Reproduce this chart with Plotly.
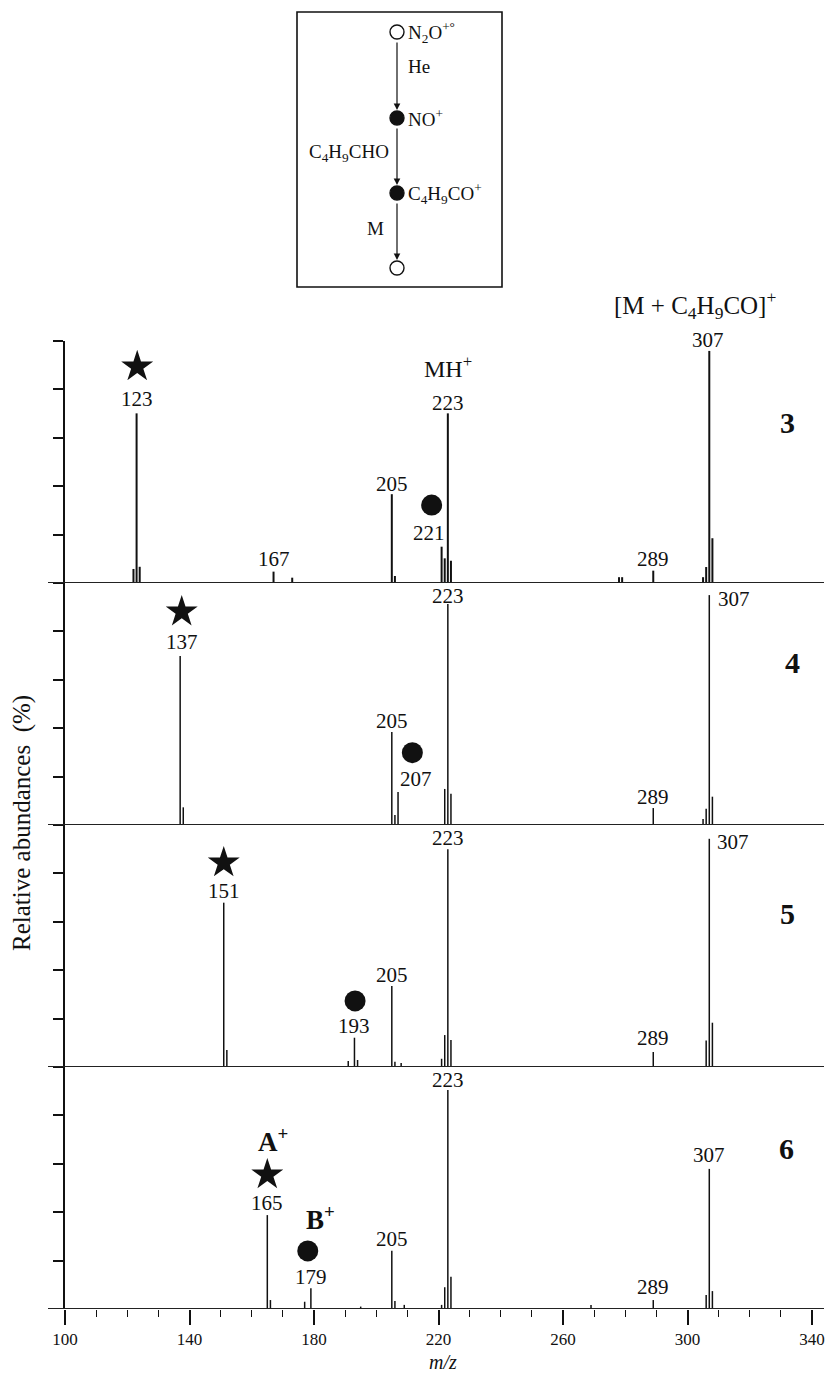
import plotly.graph_objects as go

# ---------------- data (m/z, relative abundance %) ----------------
mz_3 = [122, 123, 124, 167, 173, 205, 206, 221, 222, 223, 224, 278, 279, 289, 305, 306, 307, 308]
ab_3 = [5.8, 70.1, 6.7, 4.7, 2.2, 36.7, 2.9, 15.0, 10.2, 70.1, 9.2, 2.4, 2.4, 5.1, 2.4, 6.6, 95.9, 18.5]

mz_4 = [137, 138, 205, 206, 207, 222, 223, 224, 289, 305, 306, 307, 308]
ab_4 = [69.8, 7.3, 38.4, 4.1, 13.6, 14.9, 91.3, 12.9, 7.0, 2.5, 6.7, 95.0, 11.7]

mz_5 = [151, 152, 191, 193, 194, 205, 206, 208, 221, 222, 223, 224, 289, 306, 307, 308]
ab_5 = [67.9, 7.0, 2.5, 12.1, 2.9, 33.5, 2.2, 1.7, 3.4, 13.2, 90.0, 11.2, 6.2, 10.9, 94.3, 18.3]

mz_6 = [165, 166, 177, 179, 195, 205, 206, 209, 221, 222, 223, 224, 269, 289, 306, 307, 308]
ab_6 = [38.8, 3.7, 3.0, 8.6, 1.0, 24.1, 3.3, 1.7, 1.7, 9.0, 90.5, 13.3, 1.7, 3.7, 5.8, 57.9, 7.4]

panel_names = ["3", "4", "5", "6"]
x_ticks = [100, 140, 180, 220, 260, 300, 340]

# ---------------- styling / layout constants ----------------
INK = "#111111"
FONT = "Liberation Serif, Times New Roman, serif"
W, H = 827, 1379
ML, MR, MT, MB = 65, 15, 0, 70
PH = H - MT - MB          # plot-area height in px
ROW_TOP, ROW_H = 341, 242  # px
PX_PER_PCT = ROW_H / 100.0

def paper_y(px):
    return (PH - (px - MT)) / PH

def paper_x(px):
    return (px - ML) / (W - ML - MR)

fig = go.Figure()

spectra = [(mz_3, ab_3), (mz_4, ab_4), (mz_5, ab_5), (mz_6, ab_6)]
annotations = []
shapes = []

def ax_id(k):
    return "" if k == 0 else str(k + 1)

# label specs per panel: (text, x m/z, y %, size, bold)
labels = [
    [("123", 123, 75.9, 21, False), ("MH<sup>+</sup>", 223, 89.4, 24, False),
     ("223", 223, 74.5, 21, False), ("205", 205, 40.9, 21, False),
     ("221", 217, 20.5, 21, False), ("167", 167.1, 9.8, 21, False),
     ("289", 289, 9.8, 21, False), ("307", 306.5, 100.6, 21, False),
     ("[M + C<sub>4</sub>H<sub>9</sub>CO]<sup>+</sup>", 302.5, 115.0, 25, False)],
    [("137", 137.5, 75.7, 21, False), ("205", 205, 43.1, 21, False),
     ("207", 212.8, 18.9, 21, False), ("223", 223, 94.6, 21, False),
     ("307", 315, 93.3, 21, False), ("289", 289, 11.4, 21, False)],
    [("151", 151, 72.9, 21, False), ("193", 193, 16.9, 21, False),
     ("205", 205, 38.0, 21, False), ("223", 223, 94.6, 21, False),
     ("307", 314.6, 93.1, 21, False), ("289", 289, 12.0, 21, False)],
    [("A<sup>+</sup>", 166.8, 69.7, 27, True), ("165", 165, 43.7, 21, False),
     ("B<sup>+</sup>", 182.2, 37.5, 27, True), ("179", 179, 13.3, 21, False),
     ("205", 205, 28.9, 21, False), ("223", 223, 94.6, 21, False),
     ("307", 307, 63.6, 21, False), ("289", 289, 9.2, 21, False)],
]
panel_num_pos = [(332.0, 66.2), (333.6, 67.1), (332.2, 63.6), (331.9, 66.4)]
star_pos = [(123.2, 89.4), (137.5, 88.1), (151, 84.4), (165, 55.5)]
dot_pos = [(217.8, 32.2), (211.6, 29.9), (193.2, 27.3), (178.0, 24.0)]

for k, (mz, ab) in enumerate(spectra):
    a = ax_id(k)
    xs, ys = [], []
    for m, v in zip(mz, ab):
        xs += [m, m, None]
        ys += [0, v, None]
    fig.add_trace(go.Scatter(x=xs, y=ys, mode="lines",
                             line=dict(color=INK, width=2.0 if k == 0 else 1.5),
                             xaxis="x" + a, yaxis="y" + a,
                             hoverinfo="skip", showlegend=False))
    fig.add_trace(go.Scatter(x=[star_pos[k][0]], y=[star_pos[k][1]], mode="markers",
                             marker=dict(symbol="star", size=24, color=INK, line=dict(width=0)),
                             xaxis="x" + a, yaxis="y" + a, cliponaxis=False,
                             hoverinfo="skip", showlegend=False))
    fig.add_trace(go.Scatter(x=[dot_pos[k][0]], y=[dot_pos[k][1]], mode="markers",
                             marker=dict(symbol="circle", size=21, color=INK, line=dict(width=0)),
                             xaxis="x" + a, yaxis="y" + a, cliponaxis=False,
                             hoverinfo="skip", showlegend=False))
    for (txt, x, y, size, bold) in labels[k]:
        # annotations above the axis range would be hidden: clamp and shift in px
        yy, shift = (y, 0) if y <= 98 else (98, (y - 98) * PX_PER_PCT)
        annotations.append(dict(text=("<b>%s</b>" % txt) if bold else txt,
                                x=x, y=yy, yshift=shift, xref="x" + a, yref="y" + a,
                                showarrow=False, xanchor="center", yanchor="middle",
                                font=dict(family=FONT, size=size, color=INK)))
    annotations.append(dict(text="<b>%s</b>" % panel_names[k],
                            x=panel_num_pos[k][0], y=panel_num_pos[k][1],
                            xref="x" + a, yref="y" + a, showarrow=False,
                            font=dict(family=FONT, size=30, color=INK)))
    shapes.append(dict(type="line", xref="paper", yref="y" + a,
                       x0=paper_x(48), x1=paper_x(824), y0=0, y1=0,
                       line=dict(color="#222222", width=2)))

# axes
layout_axes = {}
for k in range(4):
    a = ax_id(k)
    top = ROW_TOP + k * ROW_H
    bot = top + ROW_H
    layout_axes["yaxis" + a] = dict(
        domain=[paper_y(bot), paper_y(top)], range=[0, 100], anchor="x" + a,
        showgrid=False, zeroline=False, showline=True, linecolor=INK, linewidth=1.6,
        ticks="outside", ticklen=10, tickwidth=1.6, tickcolor=INK,
        tickvals=[20, 40, 60, 80, 100], showticklabels=False, fixedrange=True)
    xa = dict(domain=[0, 1], range=[100, 340], anchor="y" + a,
              showgrid=False, zeroline=False, showline=False, fixedrange=True)
    if k < 3:
        xa.update(showticklabels=False, ticks="", matches="x4")
    else:
        xa.update(ticks="outside", ticklen=15, tickwidth=1.6, tickcolor=INK,
                  tickvals=x_ticks, ticktext=[str(t) for t in x_ticks],
                  tickfont=dict(family=FONT, size=17, color=INK),
                  minor=dict(ticks="outside", ticklen=7, tickwidth=1.3, tickcolor=INK,
                             dtick=10, tick0=100, showgrid=False))
    layout_axes["xaxis" + a] = xa

# ---------------- reaction scheme (inset, pixel coordinates) ----------------
layout_axes["xaxis5"] = dict(domain=[paper_x(290), paper_x(510)], range=[290, 510],
                             visible=False, anchor="y5", fixedrange=True)
layout_axes["yaxis5"] = dict(domain=[paper_y(295), 1.0], range=[295, 0],
                             visible=False, anchor="x5", fixedrange=True)

shapes.append(dict(type="rect", xref="x5", yref="y5", x0=297, x1=502, y0=12, y1=287,
                   line=dict(color=INK, width=1.6)))
node_y = [32, 118, 193, 268]
node_filled = [False, True, True, False]
fig.add_trace(go.Scatter(x=[397] * 4, y=node_y, mode="markers",
                         marker=dict(symbol=["circle" if f else "circle-open" for f in node_filled],
                                     size=14, color=INK, line=dict(width=1.4, color=INK)),
                         xaxis="x5", yaxis="y5", hoverinfo="skip", showlegend=False,
                         cliponaxis=False))
for y0, y1 in [(41, 110), (127, 185), (202, 260)]:
    annotations.append(dict(x=397, y=y1, ax=397, ay=y0, xref="x5", yref="y5",
                            axref="x5", ayref="y5", text="", showarrow=True,
                            arrowhead=2, arrowsize=1.1, arrowwidth=1.2, arrowcolor=INK))
scheme_text = [
    ("N<sub>2</sub>O<sup>+°</sup>", 406, 32, "left"),
    ("He", 406, 66, "left"),
    ("NO<sup>+</sup>", 406, 118, "left"),
    ("C<sub>4</sub>H<sub>9</sub>CHO", 391, 153, "right"),
    ("C<sub>4</sub>H<sub>9</sub>CO<sup>+</sup>", 406, 193, "left"),
    ("M", 386, 228, "right"),
]
for txt, x, y, anc in scheme_text:
    annotations.append(dict(text=txt, x=x, y=y, xref="x5", yref="y5", showarrow=False,
                            xanchor=anc, yanchor="middle",
                            font=dict(family=FONT, size=19, color=INK)))

# axis titles
annotations.append(dict(text="Relative abundances  (%)", x=paper_x(22), y=paper_y(823),
                        xref="paper", yref="paper", showarrow=False, textangle=-90,
                        xanchor="center", yanchor="middle",
                        font=dict(family=FONT, size=25, color=INK)))
annotations.append(dict(text="<i>m/z</i>", x=paper_x(443), y=paper_y(1362),
                        xref="paper", yref="paper", showarrow=False,
                        xanchor="center", yanchor="middle",
                        font=dict(family=FONT, size=20, color=INK)))

fig.update_layout(
    width=W, height=H,
    margin=dict(l=ML, r=MR, t=MT, b=MB, autoexpand=False),
    paper_bgcolor="white", plot_bgcolor="white",
    showlegend=False,
    annotations=annotations, shapes=shapes,
    font=dict(family=FONT, color=INK),
    **layout_axes,
)

fig.write_html("out.html", config={"displayModeBar": False},
               post_script="document.body.style.margin='0';document.body.style.overflow='hidden';")
